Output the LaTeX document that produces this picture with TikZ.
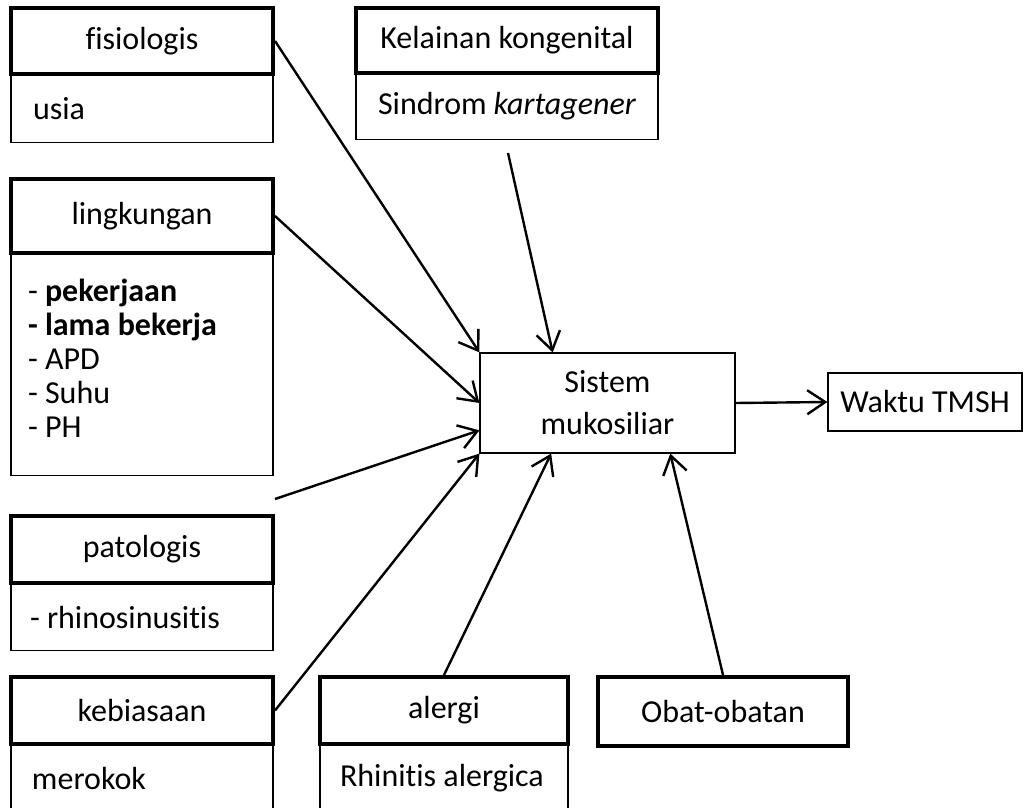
\documentclass[tikz,border=0pt]{standalone}
\usepackage{fontspec}
\setmainfont[Ligatures={NoCommon}]{Carlito}
\usetikzlibrary{positioning,arrows.meta,calc}

\begin{document}
\begin{tikzpicture}[x=0.5pt, y=-0.5pt, node distance=0pt,
  every node/.style={font=\fontsize{16}{17}\selectfont, inner sep=0pt},
  head/.style={draw, line width=2pt, align=center},
  body/.style={draw, line width=0.6pt, align=flush left},
  arr/.style={-{Straight Barb[length=9pt, width=12pt, line width=1.2pt]}, line width=1.2pt}]
  \clip (0,0) rectangle (1036,807);
  \fill[white] (0,0) rectangle (1036,807);

  % left column
  \node[body, anchor=north, text width=109pt, inner xsep=11pt,
        minimum height=34pt] (fisb) at (142,74) {usia};
  \node[head, minimum width=131pt, minimum height=33pt] (fis) at (142,41) {fisiologis};
  \node[body, anchor=north, text width=114pt, inner xsep=8.5pt,
        minimum height=111pt] (lingb) at (142,253)
    {- \textbf{pekerjaan}\\\textbf{- lama bekerja}\\- APD\\- Suhu\\- PH\\[-11pt]\mbox{}};
  \node[head, minimum width=131pt, minimum height=37pt] (ling) at (142,216) {lingkungan};
  \node[body, anchor=north, text width=112pt, inner xsep=9.5pt,
        minimum height=33.5pt] (patob) at (142,583) {- rhinosinusitis};
  \node[head, minimum width=131pt, minimum height=33.5pt] (pato) at (142,549.5) {patologis};
  \node[body, anchor=north, text width=110pt, inner xsep=10.5pt,
        minimum height=34pt] (kebb) at (142,744) {merokok};
  \node[head, minimum width=131pt, minimum height=33.5pt] (keb) at (142,710.5) {kebiasaan};

  % top and bottom row
  \node[body, anchor=north, text width=129pt, inner xsep=11pt,
        minimum height=33pt] (kelb) at (507,73) {Sindrom \textit{kartagener}};
  \node[head, minimum width=151pt, minimum height=32.5pt] (kel) at (507,40.5) {Kelainan kongenital};
  \node[body, anchor=north, text width=104pt, inner xsep=10pt,
        minimum height=34pt] (algb) at (444,744) {Rhinitis alergica};
  \node[head, minimum width=124pt, minimum height=33.5pt] (alg) at (444,710.5) {alergi};
  \node[head, minimum width=125pt, minimum height=34.5pt] (obat) at (723,711.5) {Obat-obatan};

  % centre
  \node[body, align=center, minimum width=127.5pt, minimum height=50pt,
        font=\fontsize{16}{21}\selectfont] (sys) at (607.5,403) {Sistem\\mukosiliar};
  \node[body, align=center, minimum width=97pt, minimum height=29pt] (wak) at (925,402) {Waktu TMSH};

  \coordinate (kelStart) at (508,153);
  \coordinate (patoStart) at (275,499);

  \foreach \a/\b in {fis.east/sys.north west, ling.east/sys.west, keb.east/sys.south west, sys.east/wak.west}
    \draw[arr] (\a) -- (\b);
  \draw[arr] (kelStart) -- ($(sys.north west)!0.286!(sys.north east)$);
  \draw[arr] (patoStart) -- ($(sys.south west)!0.23!(sys.north west)$);
  \draw[arr] (alg.north) -- ($(sys.south west)!0.28!(sys.south east)$);
  \draw[arr] (obat.north) -- ($(sys.south west)!0.745!(sys.south east)$);
\end{tikzpicture}
\end{document}
